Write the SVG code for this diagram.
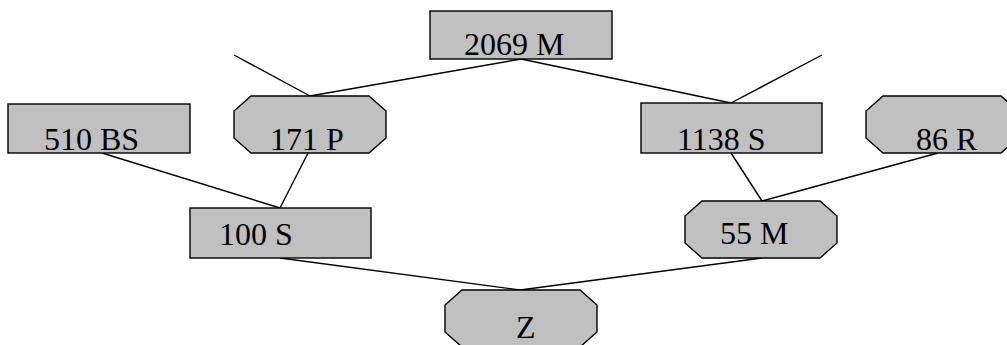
<svg xmlns="http://www.w3.org/2000/svg" width="1007" height="345" viewBox="0 0 1007 345">
<style>
.n{fill:#c0c0c0;stroke:#000;stroke-width:1.4}
.t{font-family:"Liberation Serif","Times New Roman",serif;font-size:32px;fill:#000}
.c line{stroke:#000;stroke-width:1.4}
</style>
<rect width="1007" height="345" fill="#fff"/>
<g class="c" id="connectors">
<line x1="234" y1="55" x2="310" y2="96"/>
<line x1="521" y1="59" x2="310" y2="96"/>
<line x1="521" y1="59" x2="731" y2="103"/>
<line x1="822" y1="55" x2="731" y2="103"/>
<line x1="102" y1="153" x2="280" y2="208"/>
<line x1="308" y1="153" x2="280" y2="208"/>
<line x1="731" y1="153" x2="762" y2="201"/>
<line x1="938" y1="153" x2="762" y2="201"/>
<line x1="280" y1="258" x2="520" y2="290"/>
<line x1="762" y1="258" x2="520" y2="290"/>
</g>
<g id="n2069M"><rect class="n" x="430" y="11" width="182" height="48"/><text class="t" x="464" y="55">2069 M</text></g>
<g id="n510BS"><rect class="n" x="8" y="104" width="182" height="49"/><text class="t" x="44" y="150">510 BS</text></g>
<g id="n171P"><polygon class="n" points="251,96 369,96 386,111 386,138 369,153 251,153 234,138 234,111"/><text class="t" x="270" y="150">171 P</text></g>
<g id="n100S"><rect class="n" x="190" y="208" width="181" height="50"/><text class="t" x="219" y="245">100 S</text></g>
<g id="n1138S"><rect class="n" x="641" y="103" width="181" height="50"/><text class="t" x="677" y="150">1138 S</text></g>
<g id="n86R"><polygon class="n" points="883,96 1001,96 1018,111 1018,138 1001,153 883,153 866,138 866,111"/><text class="t" x="916" y="150">86 R</text></g>
<g id="n55M"><polygon class="n" points="702,201 820,201 837,216 837,243 820,258 702,258 685,243 685,216"/><text class="t" x="720" y="244">55 M</text></g>
<g id="nZ"><polygon class="n" points="462,290 580,290 597,305 597,332 580,347 462,347 445,332 445,305"/><text class="t" x="516" y="338">Z</text></g>
</svg>
